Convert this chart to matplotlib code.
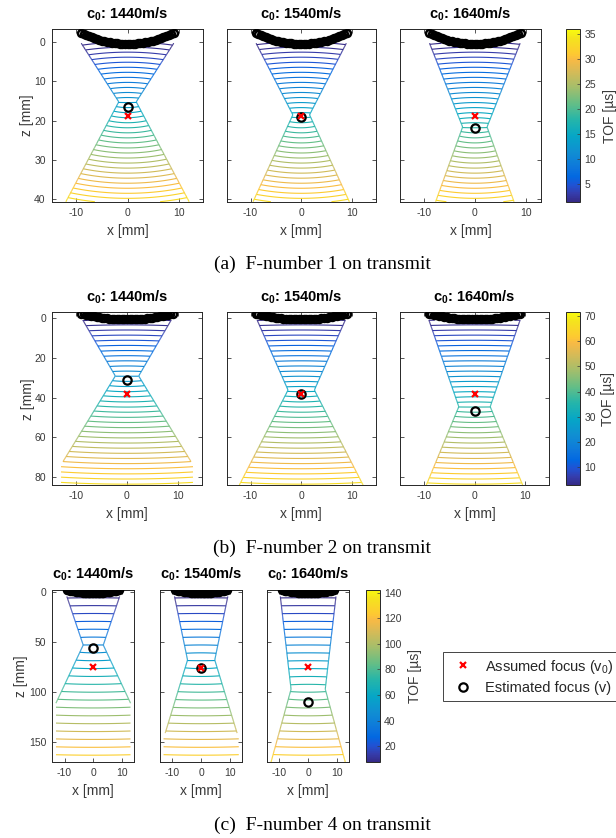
import numpy as np
import matplotlib
matplotlib.use('Agg')
import matplotlib.pyplot as plt
from matplotlib.colors import LinearSegmentedColormap, Normalize
from matplotlib.collections import LineCollection
from matplotlib.lines import Line2D
from matplotlib.cm import ScalarMappable

plt.rcParams['font.family'] = 'Liberation Sans'
plt.rcParams['mathtext.fontset'] = 'custom'
plt.rcParams['mathtext.rm'] = 'Liberation Sans'
plt.rcParams['mathtext.bf'] = 'Liberation Sans:bold'
plt.rcParams['mathtext.default'] = 'regular'
plt.rcParams['axes.unicode_minus'] = False

# --- dados ---
c0 = [1440, 1540, 1640]
captions = ['(a)  F-number 1 on transmit', '(b)  F-number 2 on transmit',
            '(c)  F-number 4 on transmit']

# foco assumido (v0) e foco estimado (v), z em mm, por linha (a, b, c) e coluna (c0)
assumed_focus = [[18.9, 18.9, 18.9], [38.2, 38.0, 38.2], [75.0, 76.0, 75.0]]
estimated_focus = [[16.4, 19.0, 21.9], [31.0, 38.0, 46.8], [55.7, 76.0, 110.0]]

# contorno do feixe: profundidade (topo, cintura, base) e meia largura nesses pontos
beam_z_a = [[0.3, 15.2, 40.6], [0.3, 18.5, 40.6], [0.3, 21.6, 40.6]]
beam_w_a = [[9.0, 1.7, 12.0], [8.9, 1.65, 9.5], [8.9, 2.4, 7.7]]
beam_z_b = [[0.8, 29.1, 72.4], [0.8, 36.2, 84.2], [0.8, 44.6, 84.2]]
beam_w_b = [[8.7, 2.3, 12.6], [8.7, 2.6, 12.2], [9.0, 3.1, 9.5]]
beam_z_c = [[4.0, 52.7, 111.0], [4.0, 67.7, 141.0], [4.0, 97.0, 170.0]]
beam_w_c = [[9.2, 3.5, 13.0], [9.2, 4.7, 12.4], [9.6, 5.9, 12.8]]
beam_z = [beam_z_a, beam_z_b, beam_z_c]
beam_w = [beam_w_a, beam_w_b, beam_w_c]

# linhas que continuam abaixo do cone (profundidade final), meia largura 13 mm
tail_z = [[None, None, None], [84.2, None, None], [166.0, 166.0, None]]
tail_w = 13.0

# TOF: inclinacao (us/mm), offset (us), niveis das isolinhas e limites da barra
tof_slope = [0.78, 0.77, 0.76]
tof_offset = [1.0, 1.5, 2.0]
tof_levels = [np.arange(1, 36, 1), np.arange(2, 72, 2), np.arange(6, 144, 6)]
tof_lim = [(1.5, 35.8), (3.0, 71.3), (7.5, 142.7)]
cbar_ticks = [[5, 10, 15, 20, 25, 30, 35], [10, 20, 30, 40, 50, 60, 70],
              [20, 40, 60, 80, 100, 120, 140]]

# elementos do transdutor: x de 0 a 9 mm (passo 0.5) e atraso desenhado em z
elem_x_half = np.arange(0, 9.01, 0.5)
elem_z_half = [0.5, 0.49, 0.46, 0.42, 0.36, 0.28, 0.18, 0.06, -0.07, -0.23,
               -0.4, -0.58, -0.79, -1.01, -1.26, -1.51, -1.79, -2.09, -2.4]

zlims = [(-3.2, 40.6), (-3.0, 84.2), (-3.0, 170.0)]
zticks = [[0, 10, 20, 30, 40], [0, 20, 40, 60, 80], [0, 50, 100, 150]]

# parula (aproximado)
parula_pts = [
    (0, (0.2081, 0.1663, 0.5292)), (3, (0.2081, 0.2386, 0.6771)),
    (6, (0.1253, 0.3242, 0.8303)), (9, (0.0060, 0.4086, 0.8828)),
    (12, (0.0498, 0.4586, 0.8641)), (18, (0.0641, 0.5570, 0.8240)),
    (24, (0.0228, 0.6535, 0.7768)), (30, (0.1453, 0.7098, 0.6646)),
    (36, (0.3953, 0.7459, 0.5244)), (42, (0.6473, 0.7456, 0.4188)),
    (48, (0.8507, 0.7299, 0.3360)), (52, (0.9739, 0.7314, 0.2666)),
    (54, (0.9955, 0.7861, 0.1967)), (60, (0.9589, 0.8949, 0.1132)),
    (63, (0.9763, 0.9831, 0.0538))]
parula = LinearSegmentedColormap.from_list('parula', [(i / 63, c) for i, c in parula_pts])

W, H = 616, 838
ax_boxes = [
    [(52, 29.5, 203, 201.7), (226.7, 29.5, 375.7, 201.7), (400, 29.5, 541, 201.7)],
    [(52.3, 312.5, 201.7, 485), (226.7, 312.5, 375.7, 485), (400, 312.5, 549, 485)],
    [(52.5, 589.5, 134, 762), (160, 589.5, 242.3, 762), (267, 589.5, 349.3, 762)],
]
xlims = [[(-14.7, 14.7), (-14.7, 14.7), (-14.7, 13.0)],
         [(-14.7, 14.7)] * 3, [(-14.2, 14.2)] * 3]
cbar_boxes = [(565.7, 29.5, 580, 201.7), (566, 312.5, 580.3, 485), (366, 589.5, 380, 762)]
tof_label_x = [610, 608, 415]
ylabel_right = [34, 35, 28]
caption_y = [264, 548, 825]
gray = '#3a3a3a'


def box(l, t, r, b):
    return [l / W, 1 - b / H, (r - l) / W, (b - t) / H]


def tof(xx, zz, zw, k, t0):  # frente convergente acima da cintura, divergente abaixo
    d = zz - zw
    gam = np.where(d < 0, 0.35, 0.6)
    sag = gam * xx**2 / (2 * (np.abs(d) + 3.0))
    return t0 + k * (zz + np.tanh(d / (0.08 * zw)) * sag)


fig = plt.figure(figsize=(W / 100, H / 100), dpi=100)

elem_x = np.concatenate([-elem_x_half[::-1], elem_x_half[1:]])
elem_z = np.concatenate([elem_z_half[::-1], elem_z_half[1:]])

for r in range(3):
    norm = Normalize(*tof_lim[r])
    k, t0 = tof_slope[r], tof_offset[r]
    for c in range(3):
        l, t, rr, b = ax_boxes[r][c]
        ax = fig.add_axes(box(l, t, rr, b))
        bz, bw = beam_z[r][c], beam_w[r][c]
        zw = bz[1]

        x = np.linspace(-14.7, 14.7, 600)
        z = np.linspace(zlims[r][0], zlims[r][1], 900)
        xx, zz = np.meshgrid(x, z)
        half = np.interp(zz, bz, bw)
        inside = (zz >= bz[0]) & (zz <= bz[2]) & (np.abs(xx) <= half)
        if tail_z[r][c] is not None:
            inside |= (zz > bz[2]) & (zz <= tail_z[r][c]) & (np.abs(xx) <= tail_w)
        T = np.ma.masked_where(~inside, tof(xx, zz, zw, k, t0))
        ax.contour(x, z, T, levels=tof_levels[r], cmap=parula, norm=norm, linewidths=0.8)

        # bordas do cone
        ze = np.linspace(bz[0], bz[2], 200)
        for side in (-1, 1):
            xe = side * np.interp(ze, bz, bw)
            pts = np.column_stack([xe, ze]).reshape(-1, 1, 2)
            segs = np.concatenate([pts[:-1], pts[1:]], axis=1)
            lc = LineCollection(segs, cmap=parula, norm=norm, linewidths=0.8)
            lc.set_array(tof(xe[:-1], ze[:-1], zw, k, t0))
            ax.add_collection(lc)

        # elementos
        ax.plot(elem_x, elem_z, 'o', ms=5, mfc='none', mec='k', mew=1.8, zorder=4)

        ax.plot([0], [estimated_focus[r][c]], 'o', ms=6, mfc='none', mec='k', mew=1.6, zorder=5)
        ax.plot([0], [assumed_focus[r][c]], 'x', ms=4.5, color='red', mew=1.6, zorder=6)

        ax.set_xlim(*xlims[r][c])
        ax.set_ylim(zlims[r][1], zlims[r][0])
        ax.set_xticks([-10, 0, 10])
        ax.set_yticks(zticks[r])
        ax.tick_params(direction='in', length=3, width=0.6, top=True, right=True,
                       labelsize=7.5, colors=gray, pad=4.5)
        for s in ax.spines.values():
            s.set_color('#262626')
            s.set_linewidth(0.7)
        ax.set_title(r'c$_\mathbf{0}$: %dm/s' % c0[c], fontsize=10.5,
                     fontweight='bold', pad=8)
        ax.set_xlabel('x [mm]', fontsize=10, color=gray)
        ax.xaxis.set_label_coords(0.5, -22 / (b - t))
        if c == 0:
            ax.set_ylabel('z [mm]', fontsize=10, color=gray)
            ax.yaxis.set_label_coords((ylabel_right[r] - l) / (rr - l), 0.5)
        else:
            ax.tick_params(labelleft=False)

    cax = fig.add_axes(box(*cbar_boxes[r]))
    cb = fig.colorbar(ScalarMappable(norm=norm, cmap=parula), cax=cax)
    cb.set_ticks(cbar_ticks[r])
    cax.tick_params(direction='in', length=2, width=0.5, labelsize=7.5, colors=gray, pad=3)
    cb.outline.set_linewidth(0.7)
    cb.outline.set_edgecolor('#262626')
    cl, ct, cr, cbm = cbar_boxes[r]
    fig.text(tof_label_x[r] / W, 1 - (ct + cbm) / 2 / H, 'TOF [µs]', rotation=90,
             ha='center', va='center', fontsize=10, color=gray)

    fig.text(322 / W, 1 - caption_y[r] / H, captions[r], ha='center', va='center',
             family='Liberation Serif', fontsize=14)

handles = [
    Line2D([], [], ls='none', marker='x', color='red', ms=4.5, mew=1.6,
           label='Assumed focus (v$_0$)'),
    Line2D([], [], ls='none', marker='o', mfc='none', mec='k', ms=6, mew=1.6,
           label='Estimated focus (v)'),
]
leg = fig.legend(handles=handles, loc='upper left', bbox_to_anchor=(443 / W, 1 - 651.7 / H),
                 fontsize=10.5, frameon=True, fancybox=False, framealpha=1,
                 edgecolor='#444444', borderpad=0.4, handlelength=2.0,
                 handletextpad=0.45, labelspacing=0.4, borderaxespad=0)
leg.get_frame().set_linewidth(0.7)
for txt in leg.get_texts():
    txt.set_color('#262626')

plt.savefig('out.png', dpi=100)
